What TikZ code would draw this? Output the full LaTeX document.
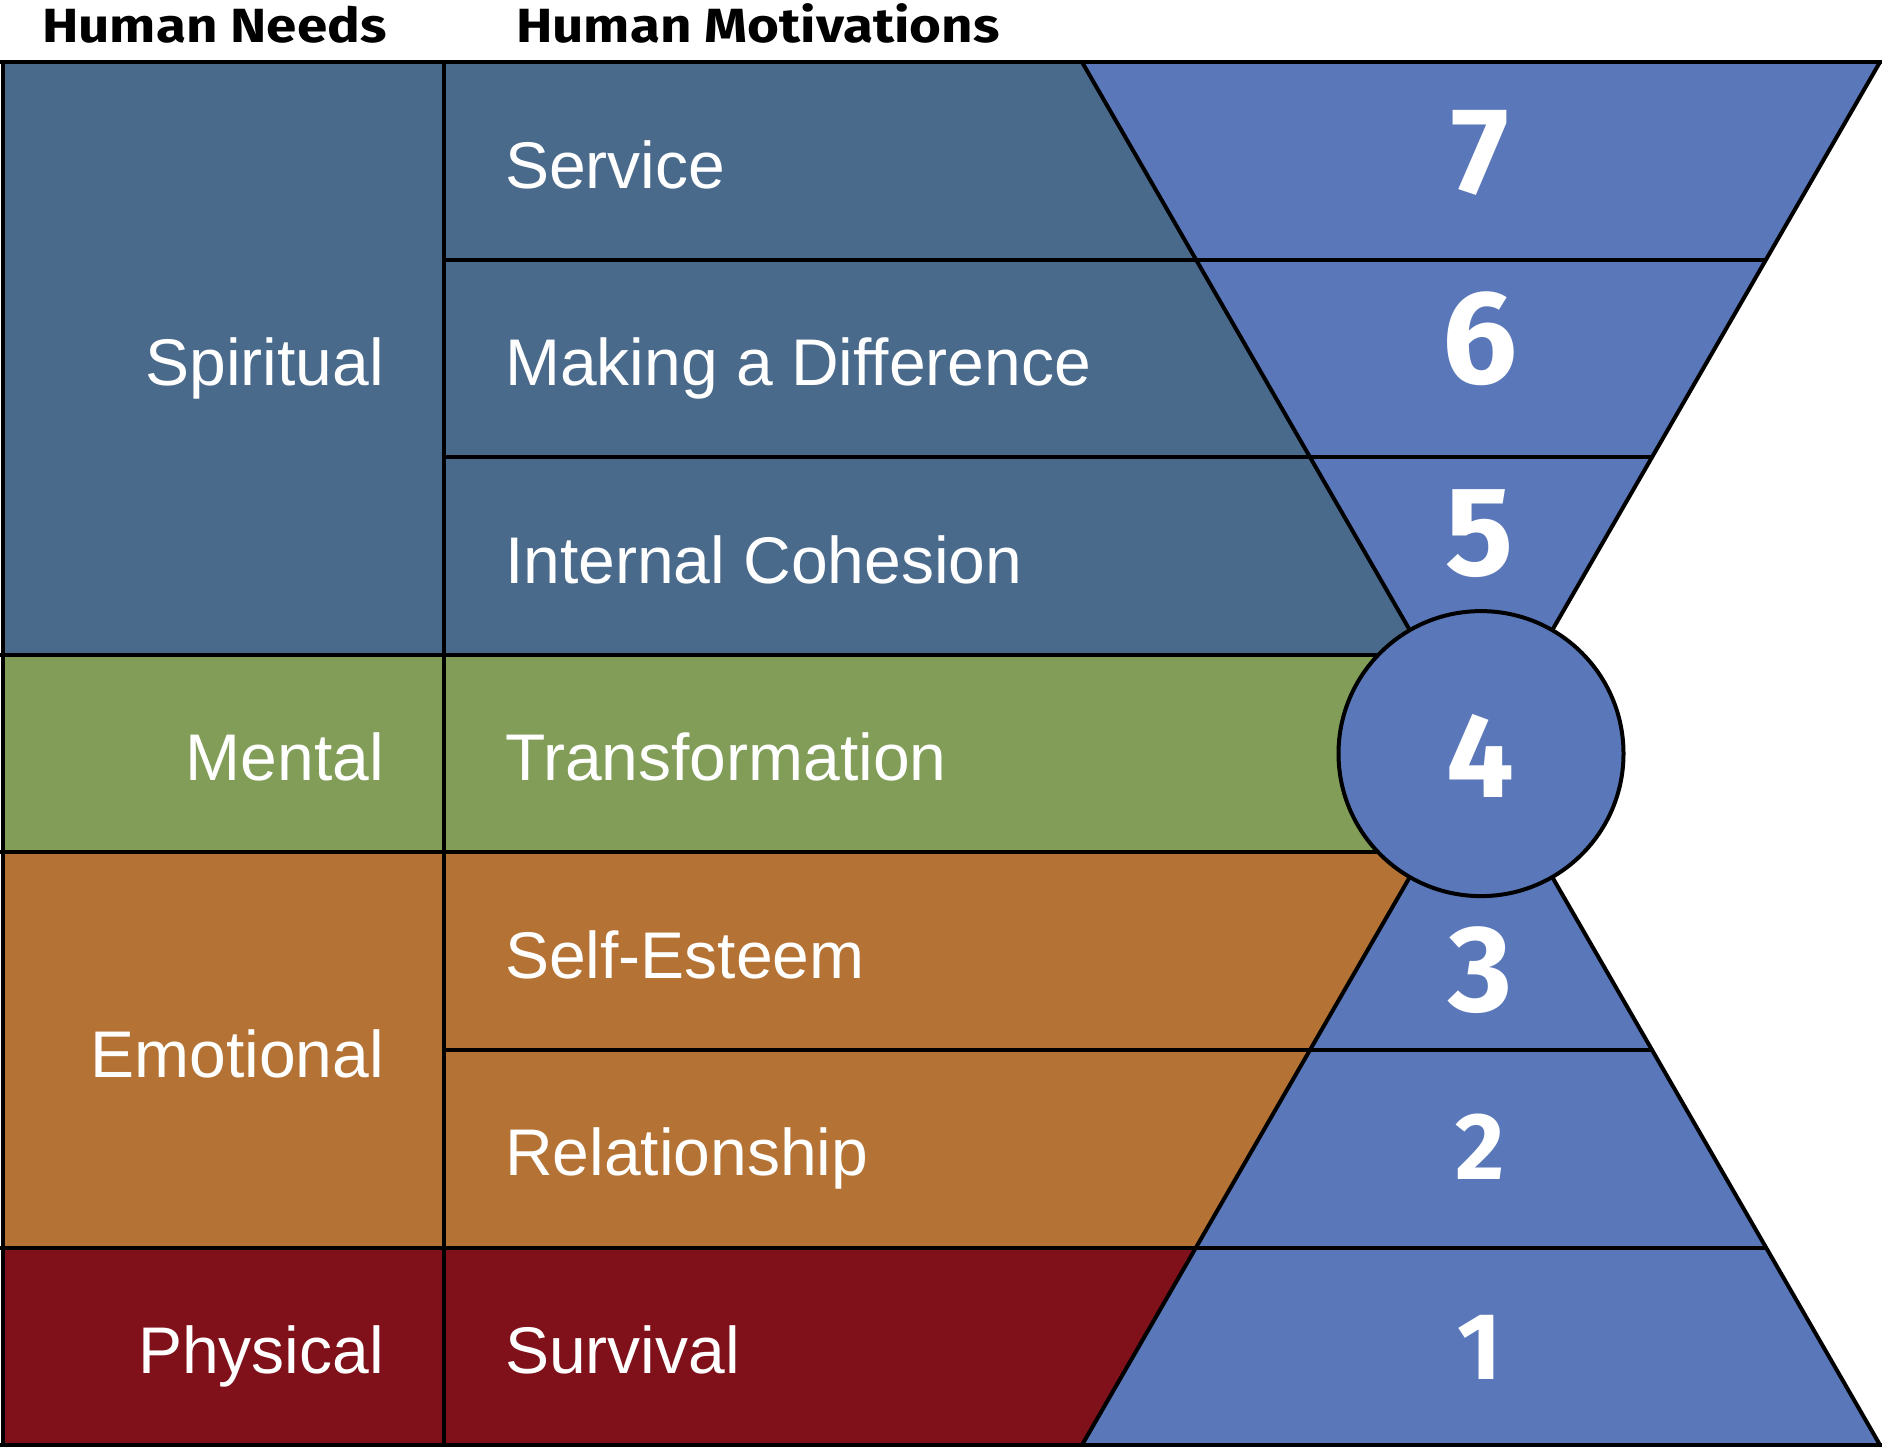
\documentclass[tikz,border=0pt]{standalone}
\usepackage{fontspec}
\setmainfont{Liberation Sans}
\newfontfamily\headfont[FakeStretch=1.14]{Fira Sans}
\newfontfamily\digitfont{Fira Sans}
\definecolor{spirit}{HTML}{4A6A8C}
\definecolor{mental}{HTML}{819D57}
\definecolor{emot}{HTML}{B47334}
\definecolor{phys}{HTML}{801019}
\definecolor{tri}{HTML}{5A78B9}
\begin{document}
\begin{tikzpicture}[x=1pt,y=-1pt,
  edge/.style={draw=black,line width=4pt},
  lab/.style={text=white,inner sep=0pt,font=\fontsize{66}{66}\selectfont},
  leftlab/.style={lab,anchor=base east},
  midlab/.style={lab,anchor=base west},
  head/.style={inner sep=0pt,anchor=base west,font=\headfont\bfseries\fontsize{48}{48}\selectfont},
  digit/.style={text=white,inner sep=0pt,anchor=center,font=\digitfont\bfseries\fontsize{#1}{#1}\selectfont}]
\useasboundingbox (0,0) rectangle (1884,1449);
% row boundaries
\def\ya{62}\def\yb{259.6}\def\yc{457.2}\def\yd{654.8}\def\ye{852.4}\def\yf{1050}\def\yg{1247.6}\def\yh{1445}
% middle column fills (up to centre line, triangles cover the rest)
\fill[spirit] (444,\ya) rectangle (1481,\yd);
\fill[mental] (444,\yd) rectangle (1481,\ye);
\fill[emot] (444,\ye) rectangle (1481,\yg);
\fill[phys] (444,\yg) rectangle (1481,\yh);
% left column fills
\fill[spirit] (2.5,\ya) rectangle (444,\yd);
\fill[mental] (2.5,\yd) rectangle (444,\ye);
\fill[emot] (2.5,\ye) rectangle (444,\yg);
\fill[phys] (2.5,\yg) rectangle (444,\yh);
% hourglass
\coordinate (apex) at (1481,753.6);
\coordinate (tl) at (1082,\ya);
\coordinate (tr) at (1880,\ya);
\coordinate (bl) at (1082,\yh);
\coordinate (br) at (1880,\yh);
\fill[tri] (tl) -- (tr) -- (apex) -- cycle;
\fill[tri] (bl) -- (br) -- (apex) -- cycle;
% horizontal lines
\draw[edge] (0,\ya) -- (1882,\ya);
\draw[edge] (444,\yb) -- (1766,\yb);
\draw[edge] (444,\yc) -- (1652,\yc);
\draw[edge] (0,\yd) -- (1500,\yd);
\draw[edge] (0,\ye) -- (1500,\ye);
\draw[edge] (444,\yf) -- (1652,\yf);
\draw[edge] (0,\yg) -- (1766,\yg);
\draw[edge] (0,\yh) -- (1882,\yh);
% vertical lines
\draw[edge] (2.5,\ya) -- (2.5,\yh);
\draw[edge] (444,\ya) -- (444,\yh);
% triangle edges
\draw[edge] (tl) -- (apex) -- (tr);
\draw[edge] (bl) -- (apex) -- (br);
% circle
\node[circle,fill=tri,draw=black,line width=4pt,minimum size=285pt,inner sep=0pt] (c4) at (apex) {};
% headers
\node[head] (hneeds) at (42,42) {Human Needs};
\node[head] (hmot) at (516,42) {Human Motivations};
% left labels
\node[leftlab] (spiritual) at (384,385) {Spiritual};
\node[leftlab] (mentallab) at (384,780.6) {Mental};
\node[leftlab] (emotional) at (384,1077) {Emotional};
\node[leftlab] (physical) at (384,1373) {Physical};
% middle labels
\node[midlab] (service) at (505,188) {Service};
\node[midlab] (making) at (505,385) {Making a Difference};
\node[midlab] (internal) at (505,583) {Internal Cohesion};
\node[midlab] (transf) at (505,780.6) {Transformation};
\node[midlab] (selfest) at (505,978) {Self-Esteem};
\node[midlab] (relat) at (505,1175.6) {Relationship};
\node[midlab] (survival) at (505,1373) {Survival};
% digits
\node[digit=123] (d7) at (1480,152.5) {7};
\node[digit=133] (d6) at (1480,339) {6};
\node[digit=127] (d5) at (1480,534) {5};
\node[digit=120] (d4) at (1480,755.5) {4};
\node[digit=123] (d3) at (1480,970.5) {3};
\node[digit=95] (d2) at (1480,1147) {2};
\node[digit=95] (d1) at (1480,1347) {1};
\end{tikzpicture}
\end{document}
